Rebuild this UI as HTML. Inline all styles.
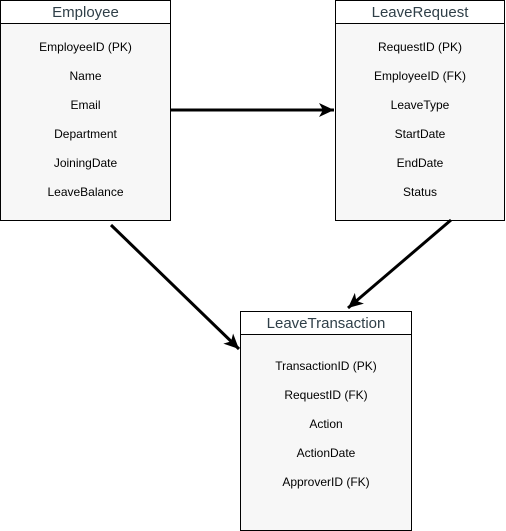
<!DOCTYPE html>
<html><head><style>
body{margin:0;width:506px;height:531px;background:#fff;position:relative;font-family:"Liberation Sans",sans-serif;overflow:hidden}
.box{position:absolute;border:1px solid #000;background:#f7f7f7;box-sizing:border-box}
.hd{height:22px;border-bottom:1px solid #000;background:#fff;text-align:center;font-size:15px;color:#2f3f48;line-height:24px}
.f{text-align:center;font-size:12px;color:#000;height:29px;line-height:29px}
</style></head><body>
<div class="box" style="left:0;top:0;width:171px;height:221px">
<div class="hd">Employee</div>
<div style="height:9px"></div>
<div class="f">EmployeeID (PK)</div><div class="f">Name</div><div class="f">Email</div><div class="f">Department</div><div class="f">JoiningDate</div><div class="f">LeaveBalance</div>
</div>
<div class="box" style="left:335px;top:0;width:170px;height:221px">
<div class="hd">LeaveRequest</div>
<div style="height:9px"></div>
<div class="f">RequestID (PK)</div><div class="f">EmployeeID (FK)</div><div class="f">LeaveType</div><div class="f">StartDate</div><div class="f">EndDate</div><div class="f">Status</div>
</div>
<div class="box" style="left:240px;top:311px;width:172px;height:220px">
<div class="hd">LeaveTransaction</div>
<div style="height:17px"></div>
<div class="f">TransactionID (PK)</div><div class="f">RequestID (FK)</div><div class="f">Action</div><div class="f">ActionDate</div><div class="f">ApproverID (FK)</div>
</div>
<svg width="506" height="531" style="position:absolute;left:0;top:0">
<defs>
<marker id="b" markerWidth="16" markerHeight="16" refX="15" refY="8" orient="auto" markerUnits="userSpaceOnUse"><path d="M0,1 L15,8 L0,15 L4,8 z" fill="#000"/></marker></defs>
<line x1="171" y1="110" x2="334" y2="110" stroke="#000" stroke-width="3" marker-end="url(#b)"/>
<line x1="111" y1="225" x2="239" y2="349" stroke="#000" stroke-width="3" marker-end="url(#b)"/>
<line x1="451" y1="220" x2="348" y2="308" stroke="#000" stroke-width="3" marker-end="url(#b)"/>
</svg>
</body></html>
